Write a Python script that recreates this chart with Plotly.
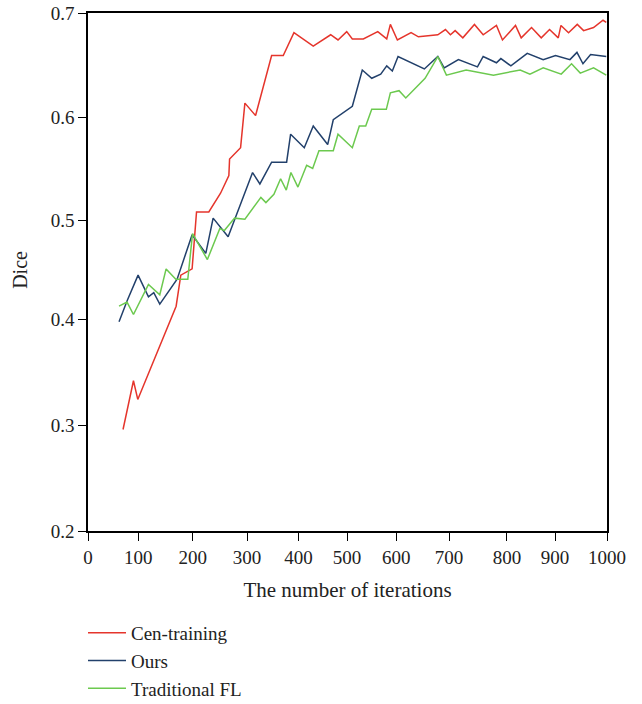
import plotly.graph_objects as go

# Cen-training
cen_x = [67.5, 87.6, 95.9, 169.8, 178.8, 200.6, 209.1, 232.8, 255.4, 271.4, 272.8, 294, 302.3, 322.9,
         353.8, 376.2, 396.8, 434, 467.6, 481.7, 498.5, 509.3, 530.5, 558.3, 575.6, 582.6, 596.1, 622.5,
         636.6, 674, 688.7, 698.3, 707.4, 722.2, 744.6, 761.4, 787, 798.6, 823.7, 834.7, 854.6, 873.3,
         889.3, 906.1, 911.3, 925.9, 942.7, 954.9, 974.1, 992.3, 998.6]
cen_y = [0.298, 0.345, 0.327, 0.417, 0.447, 0.453, 0.508, 0.508, 0.526, 0.543, 0.559, 0.570, 0.613, 0.601,
         0.659, 0.659, 0.681, 0.668, 0.679, 0.674, 0.682, 0.675, 0.675, 0.682, 0.675, 0.689, 0.674, 0.681,
         0.677, 0.679, 0.684, 0.679, 0.683, 0.676, 0.689, 0.679, 0.688, 0.674, 0.688, 0.676, 0.686, 0.676,
         0.684, 0.676, 0.688, 0.681, 0.689, 0.683, 0.686, 0.693, 0.691]

# Ours
ours_x = [59.8, 75.2, 96.5, 116.5, 126.7, 138.3, 171.7, 200.6, 227, 241.1, 270, 317.1, 331.2, 353.8,
          382.7, 390.4, 416.7, 434, 461.8, 472.6, 509.3, 528.5, 546.7, 564, 575.6, 586.4, 597.4, 648.1,
          674, 686.2, 713.7, 750.4, 761.4, 787, 795.5, 814.8, 846.3, 877.1, 900.8, 928.6, 942.1, 953.7,
          968.4, 998.6]
ours_y = [0.402, 0.422, 0.447, 0.426, 0.430, 0.419, 0.443, 0.486, 0.468, 0.502, 0.484, 0.546, 0.535, 0.556,
          0.556, 0.583, 0.570, 0.591, 0.573, 0.597, 0.610, 0.645, 0.637, 0.641, 0.649, 0.644, 0.658, 0.646,
          0.658, 0.647, 0.655, 0.648, 0.658, 0.652, 0.656, 0.649, 0.661, 0.655, 0.659, 0.655, 0.662, 0.651,
          0.660, 0.658]

# Traditional FL
fl_x = [59.8, 75.2, 87.6, 116.5, 138.3, 150.5, 169.2, 192.3, 201.4, 230, 254, 262.7, 282.4, 302.3,
        333.1, 342.8, 358.2, 371.1, 382, 391, 404.5, 421.3, 432.9, 445, 472.6, 481.7, 509.3, 522.8,
        535.1, 546.7, 574.8, 582.6, 599.3, 612.3, 649.5, 674, 690.6, 728.6, 781.2, 832.8, 851.5, 877.1,
        911.8, 931.7, 948.5, 974.1, 998.6]
fl_y = [0.417, 0.421, 0.409, 0.438, 0.428, 0.453, 0.443, 0.443, 0.487, 0.462, 0.492, 0.490, 0.502, 0.501,
        0.522, 0.517, 0.525, 0.540, 0.529, 0.546, 0.532, 0.553, 0.550, 0.567, 0.567, 0.583, 0.570, 0.591,
        0.591, 0.607, 0.607, 0.623, 0.625, 0.618, 0.637, 0.658, 0.640, 0.645, 0.640, 0.645, 0.641, 0.647,
        0.641, 0.651, 0.642, 0.647, 0.640]

x_tick_labels = ["0", "100", "200", "300", "400", "500", "600", "700", "800", "900", "1000"]
x_tick_positions = [0, 97.0, 201.7, 306.5, 405.6, 499.2, 593.7, 695.6, 807.1, 900.0, 1000]
y_tick_labels = ["0.2", "0.3", "0.4", "0.5", "0.6", "0.7"]
y_tick_positions = [0.2, 0.302, 0.404, 0.5, 0.599, 0.7]

series = [
    ("Cen-training", cen_x, cen_y, "#E5352C"),
    ("Ours", ours_x, ours_y, "#22406B"),
    ("Traditional FL", fl_x, fl_y, "#6CC94F"),
]

FONT = "Liberation Serif"

fig = go.Figure()
for name, xs, ys, color in series:
    fig.add_trace(go.Scatter(x=xs, y=ys, mode="lines", name=name, legendgroup=name,
                             line=dict(color=color, width=1.5)))

axis_common = dict(showline=True, linecolor="black", linewidth=1.5, mirror=True,
                   ticks="outside", ticklen=8, tickwidth=1.2, tickcolor="black",
                   showgrid=False, zeroline=False, automargin=True,
                   tickfont=dict(family=FONT, size=19, color="#222"))

fig.update_xaxes(range=[0, 1000], tickvals=x_tick_positions, ticktext=x_tick_labels,
                 title=dict(text="The number of iterations", font=dict(family=FONT, size=21, color="#222"),
                            standoff=16),
                 **axis_common)
fig.update_yaxes(range=[0.2, 0.7], tickvals=y_tick_positions, ticktext=y_tick_labels,
                 **axis_common)

fig.add_annotation(text="Dice", xref="paper", yref="paper", x=(20 - 88) / 518.4, y=0.504,
                   textangle=-90, showarrow=False, xanchor="center", yanchor="middle",
                   font=dict(family=FONT, size=20, color="#222"))

fig.update_layout(
    width=642, height=704,
    margin=dict(l=88, r=35, t=12.5, b=172.5, autoexpand=False),
    plot_bgcolor="white", paper_bgcolor="white",
    font=dict(family=FONT, color="#222"),
    legend=dict(xref="container", yref="container", x=83 / 642, y=1 - 614 / 704,
                xanchor="left", yanchor="top", itemwidth=38,
                font=dict(family=FONT, size=19, color="#222"),
                tracegroupgap=0, bgcolor="rgba(0,0,0,0)"),
)

fig.write_html("out.html")
